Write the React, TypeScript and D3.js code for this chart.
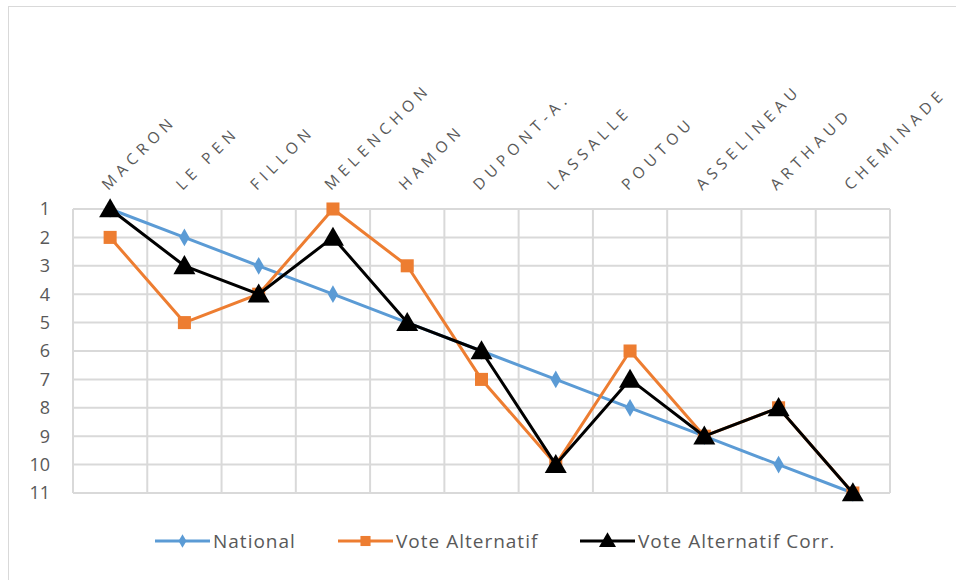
import * as d3 from 'd3'

const candidates = ['MACRON', 'LE PEN', 'FILLON', 'MELENCHON', 'HAMON', 'DUPONT-A.', 'LASSALLE', 'POUTOU', 'ASSELINEAU', 'ARTHAUD', 'CHEMINADE']
const national = [1, 2, 3, 4, 5, 6, 7, 8, 9, 10, 11]
const voteAlternatif = [2, 5, 4, 1, 3, 7, 10, 6, 9, 8, 11]
const voteAlternatifCorr = [1, 3, 4, 2, 5, 6, 10, 7, 9, 8, 11]
const rankTicks = [1, 2, 3, 4, 5, 6, 7, 8, 9, 10, 11]

const width = 956
const height = 580
const plot = { left: 73, right: 890, top: 209, bottom: 493 }
const font = '"Open Sans", "Noto Sans", sans-serif'
const grey = '#595959'
const gridColor = '#d9d9d9'

const series = [
  { name: 'National', values: national, color: '#5b9bd5', marker: d3.symbolDiamond, size: 90 },
  { name: 'Vote Alternatif', values: voteAlternatif, color: '#ed7d31', marker: d3.symbolSquare, size: 170 },
  { name: 'Vote Alternatif Corr.', values: voteAlternatifCorr, color: '#000000', marker: d3.symbolTriangle, size: 210 }
]

const legendX = [155, 338, 580]

export default function App() {
  const x = d3.scaleBand<string>().domain(candidates).range([plot.left, plot.right])
  const y = d3.scaleLinear().domain([1, 11]).range([plot.top, plot.bottom])
  const cx = (c: string) => (x(c) ?? 0) + x.bandwidth() / 2

  const line = d3.line<number>()
    .x((_, i) => cx(candidates[i]))
    .y(d => y(d))

  return (
    <svg width={width} height={height} style={{ position: 'absolute', left: 0, top: 0, background: '#fff' }}>
      <rect x={8.5} y={6.5} width={960} height={600} fill="#fff" stroke="#d9d9d9" />

      {/* horizontal grid */}
      {rankTicks.map(t => (
        <line key={'h' + t} x1={plot.left} x2={plot.right} y1={y(t)} y2={y(t)} stroke={gridColor} strokeWidth={2} />
      ))}
      {/* vertical grid */}
      {candidates.map(c => (
        <line key={'v' + c} x1={x(c)} x2={x(c)} y1={plot.top} y2={plot.bottom} stroke={gridColor} strokeWidth={2} />
      ))}
      <line x1={plot.right} x2={plot.right} y1={plot.top} y2={plot.bottom} stroke={gridColor} strokeWidth={2} />

      {/* y labels */}
      {rankTicks.map(t => (
        <text key={'yl' + t} x={50} y={y(t)} dy="0.35em" textAnchor="end" fontFamily={font} fontSize={18} fill={grey}>{t}</text>
      ))}

      {/* category labels */}
      {candidates.map(c => (
        <text key={'cl' + c} transform={`translate(${cx(c) - 2},${191}) rotate(-45)`} fontFamily={font} fontSize={15.5}
          letterSpacing={5.2} fill={grey}>{c}</text>
      ))}

      {/* series */}
      {series.map(s => (
        <g key={s.name}>
          <path d={line(s.values) ?? ''} fill="none" stroke={s.color} strokeWidth={3} strokeLinejoin="round" />
          {s.values.map((v, i) => (
            <path key={i} d={d3.symbol(s.marker, s.size)() ?? ''}
              transform={`translate(${cx(candidates[i])},${y(v) + (s.marker === d3.symbolTriangle ? 2 : 0)})`} fill={s.color} />
          ))}
        </g>
      ))}

      {/* legend */}
      {series.map((s, i) => (
        <g key={'lg' + s.name} transform={`translate(${legendX[i]},541)`}>
          <line x1={0} x2={55} y1={0} y2={0} stroke={s.color} strokeWidth={3} />
          <path d={d3.symbol(s.marker, s.size * 0.6)() ?? ''} transform={`translate(27.5,${s.marker === d3.symbolTriangle ? 1 : 0})`} fill={s.color} />
          <text x={58} y={0} dy="0.35em" fontFamily={font} fontSize={19} letterSpacing={1} fill={grey}>{s.name}</text>
        </g>
      ))}
    </svg>
  )
}
